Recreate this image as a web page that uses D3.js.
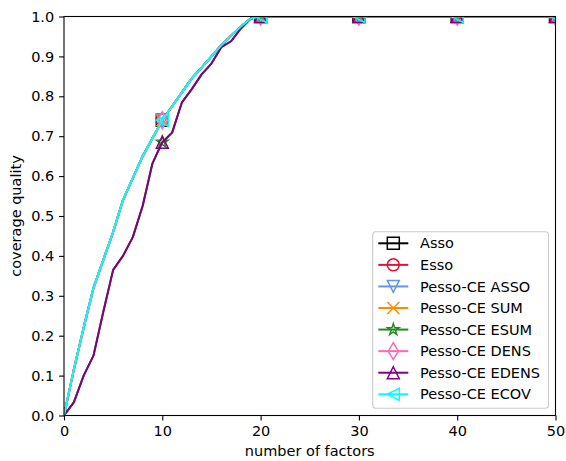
<!DOCTYPE html>
<html>
<head>
<meta charset="utf-8">
<script src="https://cdn.jsdelivr.net/npm/d3@7"></script>
<style>
  html, body { margin: 0; padding: 0; background: #fff; }
  svg { display: block; font-family: "DejaVu Sans", sans-serif; }
</style>
</head>
<body>
<svg id="chart" width="566" height="461"></svg>
<script>
// Number of factors on the x axis
const factors = [0, 1, 2, 3, 4, 5, 6, 7, 8, 9, 10, 11, 12, 13, 14, 15, 16, 17, 18, 19, 20,
  21, 22, 23, 24, 25, 26, 27, 28, 29, 30, 31, 32, 33, 34, 35, 36, 37, 38, 39, 40,
  41, 42, 43, 44, 45, 46, 47, 48, 49, 50];

// Coverage quality shared by most methods
const coverageMain = [0, 0.115, 0.22, 0.32, 0.39, 0.46, 0.54, 0.595, 0.65, 0.695, 0.74,
  0.775, 0.81, 0.845, 0.872, 0.90, 0.928, 0.952, 0.975, 0.995, 1.0,
  1, 1, 1, 1, 1, 1, 1, 1, 1, 1, 1, 1, 1, 1, 1, 1, 1, 1, 1, 1,
  1, 1, 1, 1, 1, 1, 1, 1, 1, 1];

// Coverage quality of the entropy-density variants
const coverageEdens = [0, 0.033, 0.10, 0.15, 0.26, 0.365, 0.40, 0.447, 0.525, 0.632, 0.685,
  0.709, 0.785, 0.818, 0.855, 0.882, 0.923, 0.938, 0.97, 0.995, 1.0,
  1, 1, 1, 1, 1, 1, 1, 1, 1, 1, 1, 1, 1, 1, 1, 1, 1, 1, 1, 1,
  1, 1, 1, 1, 1, 1, 1, 1, 1, 1];

const methodNames = ["Asso", "Esso", "Pesso-CE ASSO", "Pesso-CE SUM", "Pesso-CE ESUM",
  "Pesso-CE DENS", "Pesso-CE EDENS", "Pesso-CE ECOV"];
const methodValues = [coverageMain, coverageMain, coverageMain, coverageMain, coverageEdens,
  coverageMain, coverageEdens, coverageMain];
const methodColors = ["#000000", "#dc143c", "#6495ed", "#ff8c00", "#228b22",
  "#ff69b4", "#800080", "#00ffff"];
const methodMarkers = ["square", "circle", "triDown", "cross", "star", "thinDiamond", "triUp", "triLeft"];

const xTicks = [0, 10, 20, 30, 40, 50];
const yTicks = [0, 0.1, 0.2, 0.3, 0.4, 0.5, 0.6, 0.7, 0.8, 0.9, 1.0];

const svg = d3.select("#chart");
const plot = { left: 64, right: 555.5, top: 16.5, bottom: 415.5 };
const fontSize = 14.5;

const x = d3.scaleLinear().domain([0, 50]).range([plot.left, plot.right]);
const y = d3.scaleLinear().domain([0, 1]).range([plot.bottom, plot.top]);

// Marker shapes, centred at the origin, 12px nominal size
const ms = 12, h = ms / 2;
function starPath(ro, ri) {
  const pts = [];
  for (let i = 0; i < 10; i++) {
    const r = i % 2 === 0 ? ro : ri;
    const a = -Math.PI / 2 + i * Math.PI / 5;
    pts.push([r * Math.cos(a), r * Math.sin(a)]);
  }
  return "M" + pts.map(p => p[0].toFixed(2) + "," + p[1].toFixed(2)).join("L") + "Z";
}
const dh = h * Math.SQRT2, dw = dh * 0.6;
const markerPaths = {
  square: `M${-h},${-h}L${h},${-h}L${h},${h}L${-h},${h}Z`,
  circle: `M${h},0A${h},${h} 0 1,1 ${-h},0A${h},${h} 0 1,1 ${h},0Z`,
  triDown: `M${-h},${-h}L${h},${-h}L0,${h}Z`,
  cross: `M${-h},${-h}L${h},${h}M${-h},${h}L${h},${-h}`,
  star: starPath(h, h * 0.381966),
  thinDiamond: `M0,${-dh}L${dw},0L0,${dh}L${-dw},0Z`,
  triUp: `M0,${-h}L${h},${h}L${-h},${h}Z`,
  triLeft: `M${-h},0L${h},${-h}L${h},${h}Z`
};

svg.append("defs").append("clipPath").attr("id", "plotClip")
  .append("rect")
  .attr("x", plot.left).attr("y", plot.top)
  .attr("width", plot.right - plot.left).attr("height", plot.bottom - plot.top);

const dataLayer = svg.append("g").attr("clip-path", "url(#plotClip)");
const line = d3.line().x((d, i) => x(factors[i])).y(d => y(d));

methodNames.forEach((name, k) => {
  const vals = methodValues[k];
  const g = dataLayer.append("g");
  g.append("path")
    .attr("d", line(vals))
    .attr("fill", "none")
    .attr("stroke", methodColors[k])
    .attr("stroke-width", 2)
    .attr("stroke-linejoin", "round")
    .attr("stroke-linecap", "square");
  const marked = factors.map((f, i) => i).filter(i => factors[i] > 0 && factors[i] % 10 === 0);
  g.selectAll("path.mk").data(marked).enter().append("path")
    .attr("class", "mk")
    .attr("d", markerPaths[methodMarkers[k]])
    .attr("transform", i => `translate(${x(factors[i])},${y(vals[i])})`)
    .attr("fill", "none")
    .attr("stroke", methodColors[k])
    .attr("stroke-width", 1.5)
    .attr("stroke-linejoin", "miter");
});

// Axes
const xAxis = d3.axisBottom(x).tickValues(xTicks).tickSize(4.9).tickPadding(4.9)
  .tickFormat(d3.format("d"));
const yAxis = d3.axisLeft(y).tickValues(yTicks).tickSize(4.9).tickPadding(4.9)
  .tickFormat(d3.format(".1f"));

const gx = svg.append("g").attr("transform", `translate(0,${plot.bottom})`).call(xAxis);
const gy = svg.append("g").attr("transform", `translate(${plot.left},0)`).call(yAxis);
[gx, gy].forEach(g => {
  g.select(".domain").remove();
  g.selectAll(".tick line").attr("stroke", "#000").attr("stroke-width", 1.1);
  g.selectAll(".tick text").attr("fill", "#000").style("font-size", fontSize + "px")
    .style("font-family", "'DejaVu Sans', sans-serif");
});

// Frame
svg.append("rect")
  .attr("x", plot.left).attr("y", plot.top)
  .attr("width", plot.right - plot.left).attr("height", plot.bottom - plot.top)
  .attr("fill", "none").attr("stroke", "#000").attr("stroke-width", 1.1);

// Axis titles
svg.append("text")
  .attr("x", (plot.left + plot.right) / 2).attr("y", 456)
  .attr("text-anchor", "middle").style("font-size", fontSize + "px")
  .text("number of factors");
svg.append("text")
  .attr("transform", `translate(21,${(plot.top + plot.bottom) / 2}) rotate(-90)`)
  .attr("text-anchor", "middle").style("font-size", fontSize + "px")
  .text("coverage quality");

// Legend
const legend = svg.append("g");
const lg = { x0: 372.7, y0: 231.7, x1: 548.5, y1: 408.3, row0: 243.3, step: 21.57 };
legend.append("rect")
  .attr("x", lg.x0).attr("y", lg.y0)
  .attr("width", lg.x1 - lg.x0).attr("height", lg.y1 - lg.y0)
  .attr("rx", 3).attr("ry", 3)
  .attr("fill", "#fff").attr("fill-opacity", 0.8)
  .attr("stroke", "#cccccc").attr("stroke-width", 1.1);

methodNames.forEach((name, k) => {
  const cy = lg.row0 + k * lg.step;
  legend.append("line")
    .attr("x1", 378.3).attr("x2", 408.3).attr("y1", cy).attr("y2", cy)
    .attr("stroke", methodColors[k]).attr("stroke-width", 2);
  legend.append("path")
    .attr("d", markerPaths[methodMarkers[k]])
    .attr("transform", `translate(393.3,${cy})`)
    .attr("fill", "none").attr("stroke", methodColors[k]).attr("stroke-width", 1.5);
  legend.append("text")
    .attr("x", 420).attr("y", cy).attr("dy", "0.35em")
    .style("font-size", fontSize + "px")
    .text(name);
});
</script>
</body>
</html>
